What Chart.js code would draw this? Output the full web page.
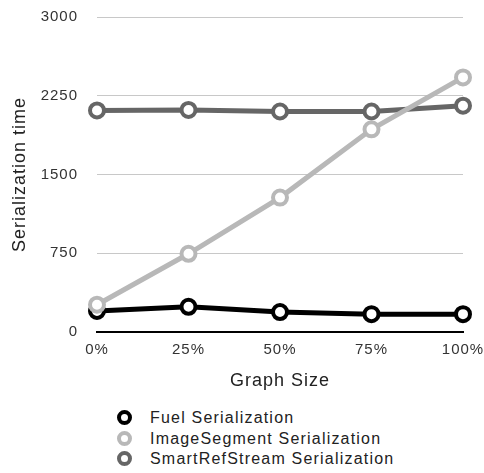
<!DOCTYPE html>
<html>
<head>
<meta charset="utf-8">
<script src="https://cdn.jsdelivr.net/npm/chart.js@4/dist/chart.umd.min.js"></script>
<style>
  body { margin: 0; background: #fff; font-family: "Liberation Sans", Arial, sans-serif; }
  #wrap { position: relative; width: 484px; height: 473px; }
  #chart-box { position: absolute; left: 0; top: 0; width: 484px; height: 395px; }
  #legend { position: absolute; left: 117px; top: 408px; font-size: 16px; letter-spacing: 1.2px; color: #222; }
  #legend div { height: 20.5px; line-height: 20.5px; white-space: nowrap; }
  #legend .mark { display: inline-block; width: 7px; height: 7px; border-radius: 50%;
                  border: 4px solid #000; margin-right: 18px; vertical-align: -2px; }
</style>
</head>
<body>
<div id="wrap">
  <div id="chart-box"><canvas id="serialization-chart" width="484" height="395"></canvas></div>
  <div id="legend"></div>
</div>
<script>
// Data
const graphSizes = ['0%', '25%', '50%', '75%', '100%'];
const fuelSerialization = [200, 240, 190, 170, 170];
const imageSegmentSerialization = [260, 745, 1280, 1930, 2425];
const smartRefStreamSerialization = [2110, 2115, 2100, 2100, 2155];
const seriesNames = ['Fuel Serialization', 'ImageSegment Serialization', 'SmartRefStream Serialization'];
const seriesColors = ['#000000', '#b8b8b8', '#666666'];

const seriesValues = [fuelSerialization, imageSegmentSerialization, smartRefStreamSerialization];
const font = "'Liberation Sans', Arial, sans-serif";

// Draw the light grey first so the darker lines sit on top, like the reference
const drawOrder = [1, 2, 0];
const datasets = drawOrder.map(i => ({
    label: seriesNames[i],
    data: seriesValues[i],
    borderColor: seriesColors[i],
    backgroundColor: '#ffffff',
    pointBackgroundColor: '#ffffff',
    pointBorderColor: seriesColors[i],
    borderWidth: 5,
    pointRadius: 7,
    pointBorderWidth: 4,
    tension: 0
}));

// The reference text is loosely tracked, give the canvas text a bit of letter spacing
const trackingPlugin = {
    id: 'tracking',
    beforeInit(chart) { chart.ctx.letterSpacing = '1px'; },
    beforeDraw(chart) { chart.ctx.letterSpacing = '1px'; }
};

new Chart(document.getElementById('serialization-chart'), {
    type: 'line',
    data: { labels: graphSizes, datasets: datasets },
    plugins: [trackingPlugin],
    options: {
        responsive: false,
        animation: false,
        layout: { padding: 0 },
        plugins: {
            legend: { display: false },
            tooltip: { enabled: false }
        },
        scales: {
            x: {
                offset: false,
                grid: { display: false, drawTicks: false },
                border: { display: true, color: '#000', width: 2 },
                ticks: { color: '#333', font: { family: font, size: 15 }, padding: 9 },
                title: { display: true, text: 'Graph Size', color: '#222', font: { family: font, size: 18 }, padding: { top: 6, bottom: 3 } },
                afterFit: scale => {
                    scale.height = 63;
                    scale.paddingLeft = 0;
                    scale.paddingRight = 21;
                }
            },
            y: {
                min: 0,
                max: 3000,
                ticks: { stepSize: 750, color: '#333', font: { family: font, size: 15 }, padding: 19,
                         callback: value => String(value) },
                grid: { color: '#c8c8c8', lineWidth: 1, drawTicks: false },
                border: { display: false },
                title: { display: true, text: 'Serialization time', color: '#222', font: { family: font, size: 18 }, padding: { top: 9, bottom: 4 } },
                afterFit: scale => {
                    scale.width = 97;
                    scale.paddingTop = 17;
                    scale.paddingBottom = 0;
                }
            }
        }
    }
});

// Vertical legend under the chart, built from the same series
const legend = document.getElementById('legend');
seriesNames.forEach((name, i) => {
    const row = document.createElement('div');
    const mark = document.createElement('span');
    mark.className = 'mark';
    mark.style.borderColor = seriesColors[i];
    row.appendChild(mark);
    row.appendChild(document.createTextNode(name));
    legend.appendChild(row);
});
</script>
</body>
</html>
